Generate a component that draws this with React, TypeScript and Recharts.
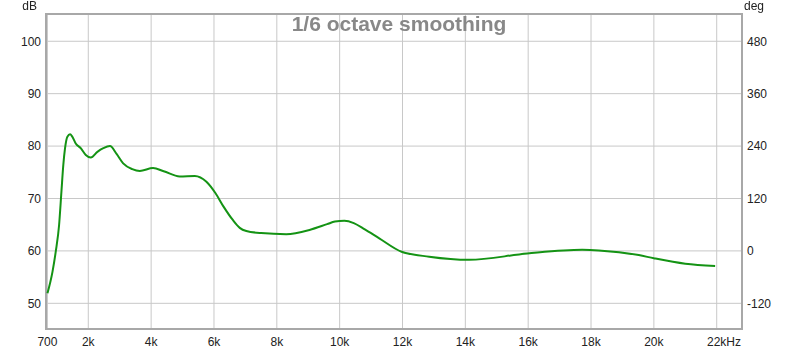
import React from 'react';
import { LineChart, Line, XAxis, YAxis, CartesianGrid, ReferenceArea } from 'recharts';

const freqs = [700, 860, 965, 1070, 1145, 1205, 1260, 1335, 1420, 1490, 1600, 1760, 1920, 2080, 2290, 2480, 2690, 2900, 3110, 3400, 3640, 4060, 4400, 4910, 5390, 5760, 6050, 6300, 6600, 6820, 7030, 7500, 8300, 9040, 9600, 9850, 10150, 10450, 10800, 11260, 11970, 12850, 14120, 15970, 17720, 18245, 19520, 20000, 21000, 21950];
const levels = [51.9, 56.0, 59.9, 64.9, 71.3, 76.4, 79.6, 81.8, 82.25, 81.8, 80.5, 79.6, 78.3, 77.8, 78.9, 79.6, 80.0, 78.5, 76.7, 75.6, 75.25, 75.8, 75.2, 74.2, 74.3, 73.2, 71.0, 68.5, 65.9, 64.4, 63.8, 63.4, 63.2, 64.0, 65.1, 65.6, 65.75, 65.3, 64.1, 62.4, 59.85, 58.9, 58.3, 59.5, 60.2, 60.1, 59.2, 58.6, 57.55, 57.1];

const xTicks = [700, 2000, 4000, 6000, 8000, 10000, 12000, 14000, 16000, 18000, 20000, 22000];
const dbTicks = [50, 60, 70, 80, 90, 100];
const degTicks = [-120, 0, 120, 240, 360, 480];
const title = '1/6 octave smoothing';

const data = freqs.map((f, i) => ({ f, db: levels[i] }));

const X_DOMAIN: [number, number] = [654, 22805];
const DB_DOMAIN: [number, number] = [45.1, 105.2];
const DEG_DOMAIN: [number, number] = [-178.8, 542.4];

const FONT = '"Liberation Sans", Arial, sans-serif';

const XTick = (props: any) => {
  const { x, y, payload } = props;
  const v = payload.value as number;
  if (v === 22000) {
    return (
      <text x={x - 9.7} y={y} dy="0.71em" textAnchor="start" fill="#222" fontSize={12} fontFamily={FONT}>
        22kHz
      </text>
    );
  }
  const label = v < 1000 ? String(v) : `${v / 1000}k`;
  return (
    <text x={x} y={y} dy="0.71em" textAnchor="middle" fill="#222" fontSize={12} fontFamily={FONT}>
      {label}
    </text>
  );
};

export default function App() {
  return (
    <div style={{ position: 'fixed', left: 0, top: 0, width: 800, height: 351, background: '#fff' }}>
      <LineChart width={800} height={351} data={data} margin={{ top: 14, right: 0, bottom: 0, left: 0 }}>
        <CartesianGrid stroke="#c8c8c8" strokeWidth={1} yAxisId="db" />
        <XAxis
          dataKey="f"
          type="number"
          domain={X_DOMAIN}
          ticks={xTicks}
          allowDataOverflow
          height={22}
          tickLine={false}
          axisLine={false}
          tickSize={0}
          tickMargin={8}
          tick={<XTick />}
          interval={0}
        />
        <YAxis
          yAxisId="db"
          type="number"
          domain={DB_DOMAIN}
          ticks={dbTicks}
          allowDataOverflow
          width={46}
          tickLine={false}
          axisLine={false}
          tickSize={0}
          tickMargin={5}
          interval={0}
          tick={{ fill: '#222', fontSize: 12, fontFamily: FONT }}
        />
        <YAxis
          yAxisId="deg"
          orientation="right"
          type="number"
          domain={DEG_DOMAIN}
          ticks={degTicks}
          allowDataOverflow
          width={58}
          tickLine={false}
          axisLine={false}
          tickSize={0}
          tickMargin={5}
          interval={0}
          tick={{ fill: '#222', fontSize: 12, fontFamily: FONT, textAnchor: 'start' }}
        />
        <ReferenceArea
          yAxisId="db"
          x1={X_DOMAIN[0]}
          x2={X_DOMAIN[1]}
          y1={DB_DOMAIN[0]}
          y2={DB_DOMAIN[1]}
          fill="none"
          stroke="#a8a8a8"
          strokeWidth={2}
          ifOverflow="visible"
        />
        <Line
          yAxisId="db"
          dataKey="db"
          type="monotone"
          stroke="#149314"
          strokeWidth={2}
          dot={false}
          isAnimationActive={false}
        />
      </LineChart>
      <div style={{ position: 'absolute', left: 0, top: 0, width: 800, height: 351, pointerEvents: 'none', fontFamily: FONT }}>
        <div style={{ position: 'absolute', right: 800 - 37, top: -1, fontSize: 12, color: '#222', lineHeight: '14px' }}>dB</div>
        <div style={{ position: 'absolute', left: 744, top: -1, fontSize: 12, color: '#222', lineHeight: '14px' }}>deg</div>
        <div style={{ position: 'absolute', left: 0, width: 798, textAlign: 'center', top: 12, fontSize: 21, fontWeight: 'bold', color: '#888', lineHeight: '24px' }}>
          {title}
        </div>
      </div>
    </div>
  );
}
